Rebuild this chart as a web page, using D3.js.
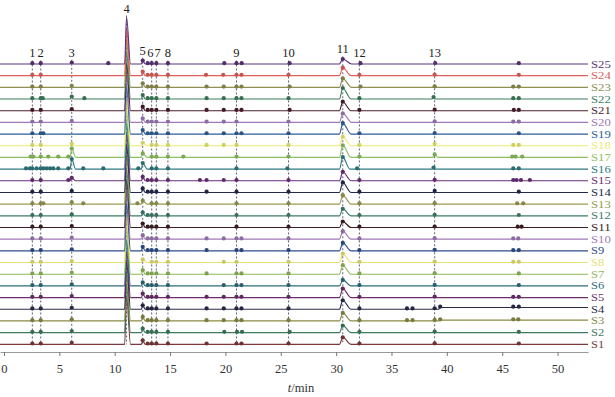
<!DOCTYPE html>
<html>
<head>
<meta charset="utf-8">
<script src="https://cdn.jsdelivr.net/npm/d3@7"></script>
<style>
  body { margin: 0; background: #fff; }
  svg { display: block; font-family: "Liberation Serif", "DejaVu Serif", serif; }
</style>
</head>
<body>
<svg id="chart" width="615" height="397"></svg>
<script>
// samples, bottom (S1) to top (S25)
const samples = ["S1", "S2", "S3", "S4", "S5", "S6", "S7", "S8", "S9", "S10", "S11", "S12", "S13",
  "S14", "S15", "S16", "S17", "S18", "S19", "S20", "S21", "S22", "S23", "S24", "S25"];

const lineColors = ["#7a3a3c", "#3d7a5e", "#8a8a45", "#2b2b48", "#6b2f6e", "#2f6b7a", "#8fb85a",
  "#e6e070", "#2d4e8c", "#a07ab5", "#3d1f23", "#3f7d6b", "#9a9a52", "#232a4e", "#6a2d78",
  "#2f7a80", "#8cc060", "#ecea70", "#2e5f94", "#a07ab8", "#4a1c2c", "#3f7e5c", "#8f8f4f",
  "#e0605a", "#5b3478"];

// numbered peaks
const peakNo = ["1", "2", "3", "4", "5", "6", "7", "8", "9", "10", "11", "12", "13"];
const peakTime = [2.56, 3.32, 6.12, 11.07, 12.53, 13.34, 13.76, 14.81, 21.0, 25.7, 30.6, 32.1, 38.9];

// peak heights per sample (S1..S25)
const peak3Height = [1.5, 1.5, 1.5, 1.5, 1.5, 1.5, 1.5, 1.5, 1.5, 1.5, 1.5, 1.5, 2, 1.5, 3, 10, 9, 2, 1.5, 1.5, 1.5, 2.5, 1.5, 1, 1.5];
const peak4Height = [48, 48, 47, 48, 47, 46, 48, 47, 48, 48, 48, 47, 48, 48, 48, 47, 48, 46, 48, 48, 48, 48, 48, 47, 47];
const peak5Height = [4, 4, 4, 4, 4, 3.5, 4, 3, 4, 4, 4, 3.5, 3.5, 4, 4, 6, 4, 3, 4, 4, 4, 4, 4, 4, 3.5];
const peak11Height = [7, 7, 8, 9, 9, 6, 9, 9, 8, 8, 6, 7, 9, 10, 9, 12, 12, 9, 11, 9, 9, 11, 9, 8, 5];
const peak13Height = [1, 1, 1, 1, 1, 1, 1, 1, 1, 1, 1, 1, 1, 1.5, 1, 1.5, 3, 2, 1, 1, 1, 2, 1, 1, 1];
const baselineStep = [0, 0, 0.8, 1.8, 0, 0, 0, 0, 0, 0, 0, 0, 0, 0, 0, 0, 0, 0, 0, 0, 0, 0, 0, 0, 0];
const stepTime = 39.4;

// marked peaks (min) per sample, S1..S25
const dotTimes = [
  [2.56, 3.32, 6.12, 12.53, 12.98, 13.34, 13.76, 14.81, 18.3, 21.0, 21.45, 25.7, 30.6, 32.1, 38.9, 46.5],
  [2.56, 3.32, 6.12, 12.53, 12.98, 13.34, 13.76, 14.81, 19.9, 21.05, 21.5, 25.8, 30.6, 32.1, 38.9, 46.5],
  [2.56, 3.32, 6.12, 12.53, 12.98, 13.34, 13.76, 14.81, 18.3, 19.85, 21.0, 21.45, 25.7, 30.6, 32.1, 36.4, 36.9, 38.9, 39.4, 46.0, 46.45],
  [2.56, 3.32, 6.12, 12.53, 12.98, 13.34, 13.76, 14.81, 18.3, 19.85, 21.0, 21.45, 25.7, 30.6, 32.1, 36.4, 36.9, 38.9, 39.4, 46.0, 46.5],
  [2.56, 3.32, 6.12, 12.53, 12.98, 13.34, 13.76, 14.81, 18.3, 19.85, 21.0, 21.45, 25.7, 30.6, 32.1, 38.9, 46.0, 46.5],
  [2.56, 3.32, 6.12, 12.53, 12.98, 13.34, 13.76, 14.81, 19.85, 21.0, 21.45, 25.7, 30.6, 32.1, 38.9, 46.5],
  [2.56, 3.32, 6.12, 12.53, 12.98, 13.34, 13.76, 14.81, 18.3, 21.0, 21.45, 25.7, 30.6, 32.1, 38.9, 46.5],
  [2.56, 3.32, 6.12, 12.53, 13.34, 13.76, 14.81, 19.85, 21.0, 25.7, 30.6, 32.1, 38.9, 46.0, 46.5],
  [2.56, 3.32, 6.12, 12.53, 12.98, 13.34, 13.76, 14.81, 18.3, 21.0, 21.45, 25.7, 30.6, 32.1, 38.9, 46.0, 46.5],
  [2.56, 3.32, 6.12, 12.53, 12.98, 13.34, 13.76, 14.81, 18.3, 19.85, 21.0, 21.45, 25.7, 30.6, 32.1, 38.9, 46.0, 46.45],
  [2.56, 3.32, 6.12, 12.53, 12.98, 13.34, 13.76, 14.81, 21.0, 25.7, 30.6, 32.1, 38.9, 46.4, 46.75],
  [2.56, 3.32, 6.12, 12.53, 12.98, 13.34, 13.76, 14.81, 21.0, 25.7, 30.6, 32.1, 38.9, 46.5],
  [2.56, 3.32, 3.55, 6.12, 7.16, 12.05, 12.53, 13.34, 13.76, 14.81, 21.0, 25.7, 30.6, 32.1, 38.9, 46.35, 46.9],
  [2.56, 3.32, 6.12, 12.53, 12.98, 13.34, 13.76, 14.81, 18.3, 21.0, 25.7, 30.6, 32.1, 38.9, 46.5],
  [2.56, 3.32, 5.81, 6.12, 12.53, 12.98, 13.34, 13.76, 14.81, 17.7, 18.3, 19.85, 21.0, 25.7, 30.6, 32.1, 38.9, 46.0, 46.3, 46.7, 47.5],
  [1.99, 2.35, 2.56, 2.95, 3.32, 3.55, 3.86, 4.16, 4.45, 4.9, 5.81, 6.12, 7.16, 8.97, 12.13, 12.53, 13.34, 13.76, 14.81, 21.0, 25.6, 30.6, 31.9, 38.8, 46.0, 46.5],
  [2.41, 2.65, 3.32, 4.0, 4.9, 5.81, 6.12, 12.53, 13.34, 13.76, 14.81, 16.2, 21.0, 25.7, 30.6, 32.1, 38.9, 45.9, 46.2, 46.8],
  [2.56, 3.32, 6.12, 12.53, 13.34, 13.76, 14.81, 18.3, 19.85, 21.0, 25.7, 30.6, 32.1, 38.9, 46.0, 46.5],
  [2.56, 3.32, 3.55, 12.53, 12.98, 13.34, 13.76, 14.81, 18.3, 19.85, 21.0, 21.45, 25.7, 30.6, 32.1, 38.9, 46.5],
  [2.56, 3.32, 6.12, 12.53, 12.98, 13.34, 13.76, 14.81, 18.3, 19.85, 21.0, 25.7, 30.6, 38.9, 46.0, 46.5],
  [2.56, 3.32, 6.12, 12.53, 12.98, 13.34, 13.76, 14.81, 18.3, 19.85, 21.0, 21.45, 25.8, 30.6, 32.1, 38.9, 46.05, 46.5],
  [2.56, 3.32, 3.5, 6.12, 7.26, 12.53, 12.98, 13.34, 13.76, 14.81, 18.3, 19.85, 21.0, 21.45, 25.7, 30.6, 32.1, 38.8, 46.0, 46.5],
  [2.56, 3.32, 6.12, 12.53, 12.98, 13.34, 13.76, 14.81, 18.3, 19.85, 21.0, 21.45, 25.8, 30.6, 32.2, 38.9, 46.0, 46.5],
  [2.56, 3.32, 12.53, 12.98, 13.34, 13.76, 14.81, 18.25, 19.8, 21.0, 21.45, 25.7, 30.6, 32.1, 38.9, 46.5],
  [2.56, 3.32, 6.12, 9.42, 12.53, 12.98, 13.34, 13.76, 14.81, 19.9, 21.0, 21.47, 25.8, 30.6, 32.2, 38.95, 46.5]
];

const xTicks = [0, 5, 10, 15, 20, 25, 30, 35, 40, 45, 50];

const svg = d3.select("#chart");

const x = d3.scaleLinear().domain([-0.36, 52.75]).range([0, 588]);
const y = d3.scaleLinear().domain([0, 300]).range([344.3, 44.3]);
const spacing = 11.68;

// heights for the numbered peaks that stand out
const majorHeights = { 2: peak3Height, 4: peak5Height, 10: peak11Height, 12: peak13Height };
const halfWidths = { 2: [0.2, 0.35], 3: [0.17, 0.36], 4: [0.12, 0.4], 10: [0.3, 0.8], 12: [0.15, 0.3] };

function peaksFor(i) {
  const list = dotTimes[i].map(t => {
    const k = peakTime.findIndex(p => Math.abs(p - t) < 0.12);
    const hs = majorHeights[k];
    return { t, k, h: hs ? hs[i] : 0.8, dot: true };
  });
  list.push({ t: peakTime[3], k: 3, h: peak4Height[i], dot: false });
  list.sort((a, b) => a.t - b.t);
  list.forEach((p, j) => {
    const hw = halfWidths[p.k] && p.h > 2.5 ? halfWidths[p.k] : [0.13, 0.13];
    const prev = j > 0 ? list[j - 1].t : -10;
    const next = j < list.length - 1 ? list[j + 1].t : 100;
    p.wl = Math.min(hw[0], (p.t - prev) / 2);
    p.wr = Math.min(hw[1], (next - p.t) / 2);
    p.step = p.t >= stepTime ? baselineStep[i] : 0;
  });
  return list;
}

function tracePoints(i, peaks) {
  const pts = [[x.domain()[0], 0]];
  peaks.forEach(p => {
    const s0 = p.t - p.wl >= stepTime ? baselineStep[i] : 0;
    const s1 = p.t + p.wr >= stepTime ? baselineStep[i] : 0;
    pts.push([p.t - p.wl, s0], [p.t, p.h + p.step], [p.t + p.wr, s1]);
  });
  pts.push([x.domain()[1], baselineStep[i]]);
  pts.sort((a, b) => a[0] - b[0]);
  return pts;
}

const traces = samples.map((name, i) => {
  const peaks = peaksFor(i);
  return { name, i, color: lineColors[i], peaks, points: tracePoints(i, peaks), off: i * spacing };
});

// label heights above the highest mark at each numbered peak
const labelInfo = peakNo.map((no, k) => {
  let top = Infinity;
  traces.forEach(tr => {
    tr.peaks.forEach(p => {
      if (Math.abs(p.t - peakTime[k]) < 0.12) top = Math.min(top, y(tr.off + p.h + p.step));
    });
  });
  return { no, k, t: peakTime[k], x: x(peakTime[k]), y: Math.max(12.5, top - 5.7) };
});
// spread crowded labels a little
for (let it = 0; it < 20; it++) {
  for (let j = 1; j < labelInfo.length; j++) {
    const a = labelInfo[j - 1], b = labelInfo[j];
    const need = (a.no.length + b.no.length) * 3.3 + 0.6;
    const gap = b.x - a.x;
    if (gap < need) { const d = (need - gap) / 2; a.x -= d; b.x += d; }
  }
}

// dashed guide lines
svg.append("g").selectAll("line").data(labelInfo).join("line")
  .attr("x1", d => x(d.t)).attr("x2", d => x(d.t))
  .attr("y1", d => d.y + 3).attr("y2", y(0))
  .attr("stroke", "#4a4f66").attr("stroke-width", 0.9)
  .attr("stroke-dasharray", "2,2");

// peak numbers
svg.append("g").selectAll("text").data(labelInfo).join("text")
  .attr("x", d => d.x).attr("y", d => d.y)
  .attr("text-anchor", "middle")
  .attr("font-size", 12.5).attr("fill", "#222")
  .text(d => d.no);

const line = d3.line()
  .x(d => x(d[0]))
  .y(d => d[1])
  .curve(d3.curveMonotoneX);

const g = svg.append("g").selectAll("g").data(traces).join("g");

g.append("path")
  .attr("d", d => line(d.points.map(p => [p[0], y(d.off + p[1])])))
  .attr("fill", "none")
  .attr("stroke", d => d.color)
  .attr("stroke-width", 1.15);

g.each(function(d) {
  d3.select(this).selectAll("circle").data(d.peaks.filter(p => p.dot)).join("circle")
    .attr("cx", p => x(p.t))
    .attr("cy", p => y(d.off + p.h + p.step))
    .attr("r", 2.1)
    .attr("fill", d3.color(d.color).darker(0.35));
});

// sample names at the right end of each trace
g.append("text")
  .attr("x", 591)
  .attr("y", d => y(d.off))
  .attr("dy", "0.34em")
  .attr("font-size", 10.4)
  .attr("textLength", d => d.name.length * 6.6)
  .attr("lengthAdjust", "spacingAndGlyphs")
  .attr("fill", d => d.color)
  .text(d => d.name);

// x axis
const axis = svg.append("g")
  .attr("transform", "translate(0,352)")
  .call(d3.axisBottom(x).tickValues(xTicks).tickSize(4).tickSizeOuter(0).tickPadding(8));
axis.select(".domain").attr("stroke", "#999");
axis.selectAll(".tick line").attr("stroke", "#777");
axis.selectAll(".tick text")
  .attr("font-family", "Liberation Serif, serif")
  .attr("font-size", 12.5).attr("fill", "#333");

const xt = svg.append("text")
  .attr("x", 301).attr("y", 392)
  .attr("text-anchor", "middle")
  .attr("font-size", 12.5).attr("fill", "#333");
xt.append("tspan").attr("font-style", "italic").text("t");
xt.append("tspan").text("/min");
</script>
</body>
</html>
